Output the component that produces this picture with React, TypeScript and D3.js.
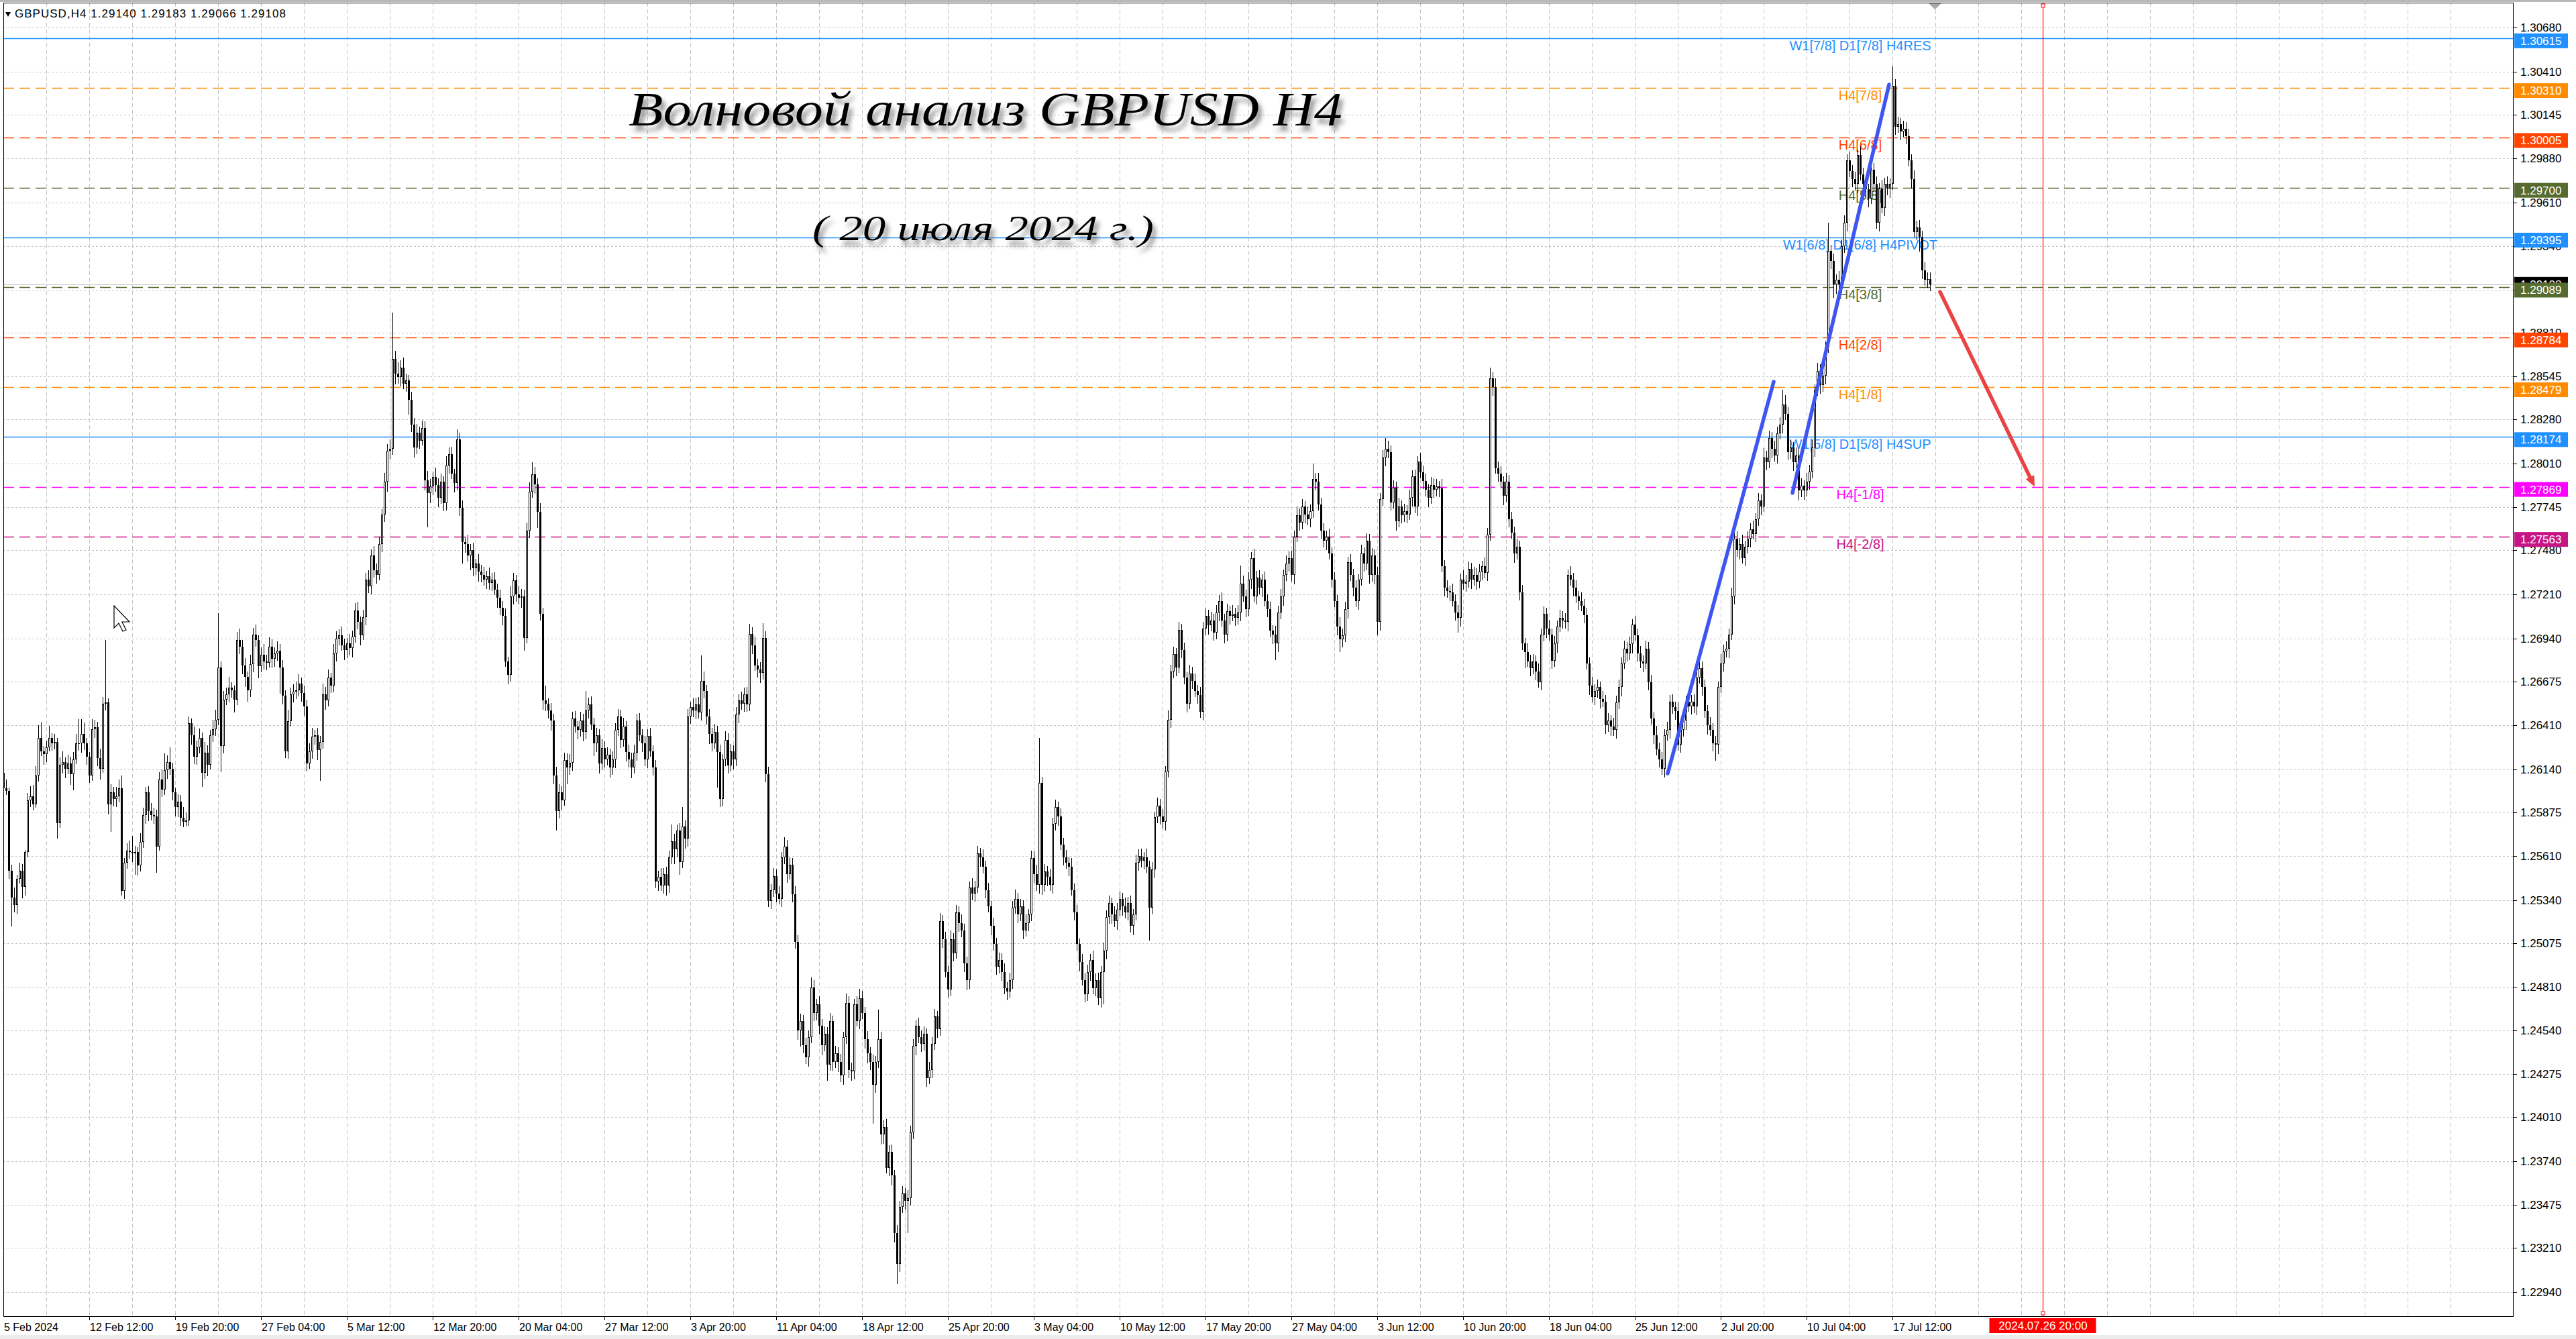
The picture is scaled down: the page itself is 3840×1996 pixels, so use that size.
import React, { useRef, useEffect } from 'react';
import * as d3 from 'd3';

// each bar: [close, upper wick, lower wick] in 1e-5 above 1.2; open = previous close
type Bar = [number, number, number];

const BASE = 1.2;
const FIRST_OPEN = 6120;

const febBars: Bar[] = [
  [6022,30,40],[6006,55,25],[5519,20,50],[5356,35,178],[5308,60,45],[5470,25,55],[5519,50,30],[5421,40,70],[5632,15,55],[5949,45,30],
  [5973,65,40],[5925,70,35],[6103,55,20],[6330,80,40],[6249,95,30],[6233,35,65],[6274,40,50],[6330,75,25],[6298,30,45],[6306,50,35],
  [5811,25,97],[6168,45,30],[6184,65,55],[6144,30,60],[6176,55,35],[6111,40,65],[6201,45,100],[6298,60,30],[6298,150,45],[6355,90,55],
  [6298,70,40],[6217,35,50],[6103,30,45],[6387,60,35],[6396,45,55],[6209,35,50],[6144,55,65],[6542,40,25],[6550,381,40],[5925,25,60],
  [5998,50,170],[5957,35,45],[5973,60,50],[6022,55,35],[5397,80,30],[5567,30,50],[5640,45,35],[5632,65,40],[5624,100,50],[5632,40,130],
  [5551,30,60],[5697,50,35],[5860,45,40],[5998,35,55],[5884,40,60],[5860,50,35],[5852,45,45],[5665,40,160],[6079,45,25],[6014,60,45],
  [6136,100,30],[6184,40,55],[6144,90,40],[5998,35,50],[5908,30,55],[5941,45,60],[5843,40,50],[5819,65,35],[5827,50,30],[6420,45,35],
  [6347,30,55],[6217,55,45],[6274,40,50],[6330,60,35],[6120,35,90],[6241,65,40],[6168,45,70],[6347,35,30],[6387,55,40],[6444,60,45],
  [6761,333,35],[6282,40,160],[6566,55,45],[6599,40,35],[6639,65,50],[6623,35,45],[6566,30,80],[6931,50,35],[6890,70,45],[6777,40,55],
  [6704,45,60],[6623,35,70],[6785,55,40],[6964,40,50],[6930,60,40],[6769,30,70],[6842,45,35],[6801,65,50],[6793,40,45],[6891,55,30],
  [6818,45,60],[6850,35,50],[6866,55,45],[6761,40,160],[6590,45,55],[6249,35,40],[6436,70,45],[6599,40,35],[6615,45,50],[6623,55,45],
  [6663,60,35],[6607,40,55],[6526,45,60],
];

const marBars: Bar[] = [
  [6176,40,50],[6249,50,35],[6339,55,45],[6347,35,50],[6258,45,60],[6306,40,190],[6600,65,40],[6560,45,55],[6700,50,35],[6650,30,45],
  [6850,55,40],[6940,45,50],[6960,35,40],[6900,55,35],[6870,40,60],[6910,35,50],[6880,60,45],[6950,40,55],[7110,45,35],[7040,55,45],
  [6960,35,60],[7070,45,30],[7300,40,50],[7260,60,40],[7450,35,50],[7360,55,45],[7330,40,55],[7520,45,35],[7700,30,50],[7900,55,45],
  [8090,40,60],[8100,60,50],[8650,284,35],[8560,50,65],[8540,70,40],[8600,45,55],[8500,60,35],[8520,40,50],[8400,35,90],[8250,50,45],
  [8110,40,60],[8200,55,40],[8150,35,50],[8230,45,30],[7910,40,65],[7830,55,210],[7870,45,60],[7930,30,50],[7880,55,40],[7800,40,55],
  [7900,50,35],[7770,35,50],[8000,55,45],[8070,40,50],[7950,45,35],[7890,30,55],[8160,60,45],[7740,40,50],[7530,45,130],[7520,35,55],
  [7450,55,40],[7480,40,90],[7370,45,50],[7400,30,40],[7350,55,60],[7330,40,45],[7300,50,35],[7320,35,55],[7280,55,40],[7300,40,50],
  [7240,45,35],[7190,35,60],[7130,50,45],[7080,40,60],[6800,45,35],[6716,30,55],[7200,60,40],[7295,45,50],[7210,35,45],[7190,55,40],
  [7200,45,60],[6945,40,80],[7600,50,35],[7840,55,45],[7945,73,40],[7885,45,60],[7717,35,100],[7090,50,40],[6560,40,55],[6540,90,45],
  [6500,35,50],[6440,45,65],[6100,40,50],[5885,55,121],[6000,50,45],[5950,35,60],[6198,45,35],[6150,40,100],[6180,55,45],[6451,40,50],
  [6400,45,35],[6380,35,55],[6440,50,40],[6367,40,55],[6500,120,45],[6536,40,50],[6415,50,35],[6300,40,80],[6350,45,55],[6174,35,60],
  [6270,55,40],[6200,40,50],[6230,45,35],[6150,35,60],[6200,50,45],[6380,40,55],[6463,45,35],[6319,40,50],[6400,55,40],[6246,35,60],
  [6200,45,50],[6150,40,65],[6240,50,35],[6439,40,50],[6350,45,40],[6300,35,55],
];

const aprBars: Bar[] = [
  [6200,45,40],[6343,40,55],[6250,50,35],[6150,35,50],[5451,45,40],[5480,40,55],[5430,55,35],[5499,35,50],[5427,45,60],[5600,40,45],
  [5700,100,40],[5650,45,90],[5764,40,50],[5572,45,80],[5788,120,35],[5716,40,60],[6463,45,50],[6520,35,45],[6500,55,40],[6536,40,55],
  [6487,45,35],[6680,157,50],[6620,60,45],[6463,35,50],[6355,45,60],[6300,40,50],[6367,50,35],[6246,40,220],[5957,45,50],[6200,35,45],
  [6319,55,40],[6162,40,50],[6250,45,35],[6200,35,60],[6475,45,40],[6560,40,55],[6540,55,35],[6600,40,50],[6536,45,45],[6969,60,40],
  [6900,40,55],[6777,50,35],[6750,40,50],[6728,45,60],[6945,90,40],[6111,40,50],[5333,45,35],[5400,35,50],[5486,50,40],[5380,40,55],
  [5347,45,35],[5600,35,50],[5667,55,40],[5500,40,55],[5556,45,35],[5375,40,50],[5084,50,40],[4542,40,60],[4600,45,100],[4450,35,50],
  [4376,45,40],[4500,40,55],[4806,60,35],[4650,45,50],[4700,35,45],[4570,50,55],[4450,40,60],[4520,45,35],[4334,40,100],[4598,50,40],
  [4348,35,55],[4400,45,35],[4348,40,60],[4265,50,40],[4500,35,55],[4709,60,40],[4300,40,50],[4292,45,60],[4700,35,50],[4600,50,35],
  [4737,60,50],[4650,45,40],[4487,35,55],[4400,50,60],[4348,40,50],[4209,45,240],[4350,35,50],[4487,180,40],[3904,45,60],[3950,40,55],
  [3700,50,35],[3800,40,50],[3654,45,60],[3300,35,55],[3112,50,124],[3460,40,50],[3543,45,35],[3500,35,55],[3515,50,200],[3918,40,45],
  [4445,45,40],[4570,35,55],[4500,50,35],[4459,40,50],[4520,45,40],[4251,35,55],[4300,50,40],[4459,40,50],[4626,45,35],[4550,35,55],
  [5209,50,40],[5100,40,55],[4900,45,35],[4792,35,50],[5098,55,40],[5014,40,50],[5264,45,35],[5200,35,55],[5153,50,40],[4950,40,50],
  [4848,45,60],[5417,35,50],[5380,55,40],[5417,40,50],[5625,45,35],[5600,35,55],[5542,50,40],[5400,40,50],[5300,45,35],[5181,35,55],
  [5070,50,40],[4931,40,50],
];

const mayBars: Bar[] = [
  [4973,45,40],[4900,40,55],[4800,50,35],[4778,35,50],[4850,45,40],[5292,40,55],[5347,55,35],[5250,35,50],[5300,45,40],[5153,40,55],
  [5200,50,35],[5250,35,50],[5597,45,40],[5500,40,55],[5431,55,35],[6055,278,50],[5431,40,60],[5514,45,40],[5480,35,55],[5431,50,35],
  [5805,40,50],[5908,45,40],[5850,35,55],[5680,50,35],[5600,40,50],[5569,45,40],[5542,35,55],[5400,55,35],[5264,40,50],[5070,45,40],
  [4959,35,55],[4850,50,35],[4764,40,50],[4900,45,40],[4973,35,55],[4800,55,35],[4850,40,50],[4737,45,40],[4900,35,55],[5028,50,200],
  [5236,40,50],[5320,45,40],[5250,35,55],[5209,50,35],[5280,40,50],[5347,45,40],[5300,35,55],[5264,55,35],[5320,40,50],[5181,45,40],
  [5250,35,55],[5569,50,35],[5611,40,50],[5580,45,40],[5600,35,55],[5542,55,35],[5292,40,200],[5528,45,40],[5847,35,55],[5916,50,35],
  [5850,40,50],[5819,45,40],[6125,35,55],[6444,55,35],[6739,40,50],[6846,45,40],[6763,35,55],[6991,50,35],[6870,40,50],[6700,45,40],
  [6543,35,55],[6726,55,35],[6680,40,50],[6621,45,40],[6595,35,55],[6490,50,35],[7001,40,50],[7080,45,40],[7020,35,55],[7050,55,35],
  [6975,40,50],[7100,45,40],[7171,35,55],[7050,50,35],[6962,40,50],[7106,45,40],[7080,35,55],[7090,55,35],[7066,40,50],[7100,45,40],
  [7276,110,55],[7200,50,35],[7119,40,50],[7300,45,40],[7433,35,55],[7197,55,35],[7315,40,50],[7250,45,40],[7300,35,55],[7171,50,35],
  [7119,40,50],[6988,45,40],[6962,35,55],[6909,55,100],[7100,40,50],[7197,45,40],[7328,35,55],[7400,50,35],[7433,40,50],[7328,45,40],
  [7564,35,55],[7695,55,35],[7650,40,50],[7747,45,40],[7700,35,55],[7669,50,35],[7720,40,50],[7918,91,40],[7900,35,55],[7760,55,35],
  [7600,40,50],[7538,45,40],[7564,35,55],[7459,50,35],[7300,40,50],[7171,45,40],[7014,35,55],[6936,55,80],[6960,40,50],[7119,45,40],
  [7407,35,55],[7328,50,35],[7250,40,50],[7171,45,40],[7300,35,55],[7459,55,35],[7400,40,50],[7538,45,40],
];

const junBars: Bar[] = [
  [7328,40,50],[7450,45,40],[7328,35,55],[7040,50,80],[7792,40,50],[8049,45,40],[8101,65,55],[8080,50,35],[7774,40,50],[7865,45,40],
  [7656,35,55],[7747,55,35],[7695,40,50],[7720,45,40],[7700,35,55],[7800,50,35],[7931,40,50],[7747,45,40],[8022,35,55],[7957,55,35],
  [7905,40,50],[7850,45,40],[7800,35,55],[7880,50,35],[7850,40,50],[7870,45,40],[7860,35,55],[7381,55,35],[7250,40,50],[7230,45,40],
  [7224,35,55],[7171,50,35],[7100,40,50],[7067,45,90],[7302,35,55],[7276,55,35],[7290,40,50],[7368,45,40],[7300,35,55],[7330,50,35],
  [7289,40,50],[7350,45,40],[7381,35,55],[7342,55,35],[7577,40,50],[8533,66,40],[8481,35,55],[7983,50,35],[7950,40,50],[7900,45,40],
  [7813,35,55],[7900,55,35],[7669,40,50],[7590,45,40],[7459,35,55],[7500,50,35],[7224,40,50],[6909,45,40],[6857,35,100],[6800,55,35],
  [6760,40,50],[6800,45,40],[6739,35,55],[6674,50,35],[6962,40,50],[7093,45,40],[7000,35,55],[6962,55,35],[6805,40,50],[6909,45,40],
  [7014,35,55],[7067,50,35],[7050,40,50],[7040,45,40],[7328,35,55],[7300,55,35],[7250,40,50],[7197,45,40],[7171,35,55],[7141,50,35],
  [7082,40,50],[6789,45,40],[6650,35,55],[6584,55,35],[6620,40,50],[6642,45,40],[6569,35,55],[6554,50,35],[6408,40,50],[6437,45,40],
  [6400,35,55],[6379,55,35],[6550,40,50],[6642,45,40],[6789,35,55],[6877,50,35],[6850,40,50],[6906,45,40],[7024,35,55],[6960,55,35],
  [6848,40,50],[6800,45,40],[6789,35,55],[6877,50,35],[6672,40,50],[6452,45,40],[6350,35,55],[6261,55,35],[6200,40,50],[6144,45,40],
  [6349,35,55],[6379,50,35],[6554,40,50],[6520,45,40],[6496,35,55],[6290,55,35],[6379,40,50],[6437,45,40],[6554,35,55],[6525,50,35],
];

const julBars: Bar[] = [
  [6554,40,50],[6525,45,40],[6700,35,55],[6760,55,35],[6642,40,50],[6496,45,40],[6408,35,55],[6380,50,35],[6300,40,50],[6290,45,100],
  [6642,35,55],[6789,55,35],[6863,40,50],[6877,45,40],[6965,35,55],[7200,50,35],[7552,40,50],[7480,45,40],[7520,35,55],[7434,55,35],
  [7500,40,50],[7552,45,40],[7610,35,55],[7580,50,35],[7669,40,50],[7786,45,40],[7750,35,55],[8050,55,35],[8021,40,50],[8168,45,40],
  [8100,35,55],[8060,50,35],[8197,40,50],[8250,45,40],[8373,88,55],[8314,55,35],[8080,40,50],[8109,45,40],[8021,35,55],[8060,50,35],
  [7845,40,59],[7874,45,40],[7845,35,55],[7900,55,35],[7962,40,50],[8109,45,40],[8461,35,55],[8578,50,35],[8490,40,50],[8550,45,40],
  [8725,35,55],[9311,176,35],[9250,40,50],[9106,45,80],[9135,35,55],[9106,55,35],[9341,40,50],[9487,45,40],[9869,35,55],[9800,50,35],
  [9751,40,50],[9722,45,40],[9898,35,55],[9780,55,35],[9722,40,50],[9690,45,40],[9634,35,55],[9810,50,35],[9722,40,50],[9487,45,40],
  [9693,35,55],[9576,55,35],[9722,40,50],[9693,45,40],[9722,35,55],[10323,118,35],[10074,40,50],[10089,45,40],[10045,35,55],[10060,50,35],
  [10015,40,50],[9869,45,40],[9751,35,55],[9429,55,35],[9458,40,50],[9399,45,90],[9194,35,55],[9135,50,35],[9140,40,50],[9108,43,42],
];

const priceTicks = [
  1.3068, 1.3041, 1.30145, 1.2988, 1.2961, 1.2934, 1.29075, 1.2881, 1.28545, 1.2828,
  1.2801, 1.27745, 1.2748, 1.2721, 1.2694, 1.26675, 1.2641, 1.2614, 1.25875, 1.2561,
  1.2534, 1.25075, 1.2481, 1.2454, 1.24275, 1.2401, 1.2374, 1.23475, 1.2321, 1.2294,
];

const timeLabels = [
  '5 Feb 2024', '12 Feb 12:00', '19 Feb 20:00', '27 Feb 04:00', '5 Mar 12:00', '12 Mar 20:00',
  '20 Mar 04:00', '27 Mar 12:00', '3 Apr 20:00', '11 Apr 04:00', '18 Apr 12:00', '25 Apr 20:00',
  '3 May 04:00', '10 May 12:00', '17 May 20:00', '27 May 04:00', '3 Jun 12:00', '10 Jun 20:00',
  '18 Jun 04:00', '25 Jun 12:00', '2 Jul 20:00', '10 Jul 04:00', '17 Jul 12:00',
];

const levelPrices = [1.30615, 1.3031, 1.30005, 1.297, 1.29395, 1.29089, 1.28784, 1.28479, 1.28174, 1.27869, 1.27563];
const levelTexts = [
  'W1[7/8] D1[7/8] H4RES', 'H4[7/8]', 'H4[6/8]', 'H4[5/8]', 'W1[6/8] D1[6/8] H4PIVOT',
  'H4[3/8]', 'H4[2/8]', 'H4[1/8]', 'W1[5/8] D1[5/8] H4SUP', 'H4[-1/8]', 'H4[-2/8]',
];
const levelKinds = ['major', 'l78', 'l68', 'l58', 'major', 'l58', 'l68', 'l78', 'major', 'm18', 'm28'];
const levelLabelBar = 692;

const currentPrice = 1.29108;
const headerText = 'GBPUSD,H4  1.29140 1.29183 1.29066 1.29108';
const titleText = 'Волновой анализ GBPUSD H4';
const subtitleText = '( 20 июля 2024 г.)';

// [bar, price, bar, price]
const waveLines = [
  [620.25, 1.26114, 659.75, 1.28512],
  [666.75, 1.27831, 702.75, 1.30331],
];
const forecastArrow = [721.75, 1.29062, 757, 1.27869];
const markerBar = 760;
const markerLabel = '2024.07.26 20:00';

const kindStyle: Record<string, { color: string; dash: string | null }> = {
  major: { color: '#1e90ff', dash: null },
  l78: { color: '#ff8c00', dash: '16 8' },
  l68: { color: '#ff4500', dash: '16 8' },
  l58: { color: '#556b2f', dash: '16 8' },
  m18: { color: '#ff00ff', dash: '16 8' },
  m28: { color: '#c71585', dash: '16 8' },
};

const FONT = "'Liberation Sans', Arial, sans-serif";

const App: React.FC = () => {
  const svgRef = useRef<SVGSVGElement | null>(null);

  useEffect(() => {
    if (!svgRef.current) return;
    const svg = d3.select(svgRef.current);
    svg.selectAll('*').remove();

    const W = 3840, H = 1996;
    const L = 5, R = 3746, T = 4, B = 1962;

    const bars = [...febBars, ...marBars, ...aprBars, ...mayBars, ...junBars, ...julBars];
    let prev = FIRST_OPEN;
    const candles = bars.map(([c, u, d], i) => {
      const o = prev;
      prev = c;
      return {
        i,
        o: BASE + o / 1e5,
        c: BASE + c / 1e5,
        h: BASE + (Math.max(o, c) + u) / 1e5,
        l: BASE + (Math.min(o, c) - d) / 1e5,
      };
    });

    const x = d3.scaleLinear().domain([0, candles.length - 1]).range([5, 5 + 4 * (candles.length - 1)]);
    const y = d3.scaleLinear().domain([1.2294, 1.3068]).range([1926, 41]);

    const defs = svg.append('defs');
    defs.append('clipPath').attr('id', 'plotClip')
      .append('rect').attr('x', L).attr('y', T).attr('width', R - L).attr('height', B - T);
    const sh = defs.append('filter').attr('id', 'shadow').attr('x', '-10%').attr('y', '-30%').attr('width', '130%').attr('height', '190%');
    sh.append('feDropShadow').attr('dx', 5).attr('dy', 8).attr('stdDeviation', 3.5).attr('flood-color', '#555').attr('flood-opacity', 0.65);

    svg.append('rect').attr('width', W).attr('height', H).attr('fill', '#fff');
    svg.append('rect').attr('x', 0).attr('y', 0).attr('width', W).attr('height', 3).attr('fill', '#b8b8b8');
    svg.append('rect').attr('x', 0).attr('y', 1990).attr('width', W).attr('height', 6).attr('fill', '#ececec');

    const plot = svg.append('g').attr('clip-path', 'url(#plotClip)');

    // grid
    const grid = plot.append('g').attr('shape-rendering', 'crispEdges');
    grid.selectAll('line.h').data(priceTicks).join('line')
      .attr('x1', L).attr('x2', R)
      .attr('y1', d => Math.round(y(d)) + 0.5).attr('y2', d => Math.round(y(d)) + 0.5)
      .attr('stroke', '#c4c4c4').attr('stroke-dasharray', '3 3');
    const vBars = d3.range(16, 920, 16);
    grid.selectAll('line.v').data(vBars).join('line')
      .attr('x1', d => x(d) + 0.5).attr('x2', d => x(d) + 0.5)
      .attr('y1', T).attr('y2', B)
      .attr('stroke', '#c4c4c4').attr('stroke-dasharray', '6 4');

    // level lines
    plot.append('g').selectAll('line').data(levelPrices).join('line')
      .attr('x1', L).attr('x2', R)
      .attr('y1', d => Math.round(y(d)) + 0.5).attr('y2', d => Math.round(y(d)) + 0.5)
      .attr('stroke', (d, i) => kindStyle[levelKinds[i]].color)
      .attr('stroke-width', 1.3)
      .attr('stroke-dasharray', (d, i) => kindStyle[levelKinds[i]].dash);

    // current price line
    plot.append('line')
      .attr('x1', L).attr('x2', R)
      .attr('y1', Math.round(y(currentPrice)) + 0.5).attr('y2', Math.round(y(currentPrice)) + 0.5)
      .attr('stroke', '#c0c0c0').attr('stroke-width', 1.2);

    // vertical date marker
    const mx = x(markerBar) + 0.5;
    plot.append('line').attr('x1', mx).attr('x2', mx).attr('y1', T).attr('y2', B)
      .attr('stroke', '#ff0000').attr('stroke-width', 1.2);
    [T + 2, B - 7].forEach(yy => {
      plot.append('rect').attr('x', mx - 2.5).attr('y', yy).attr('width', 5).attr('height', 5)
        .attr('fill', '#fff').attr('stroke', '#ff0000').attr('stroke-width', 1);
    });

    // level texts (under candles)
    plot.append('g').selectAll('text').data(levelPrices).join('text')
      .attr('x', x(levelLabelBar)).attr('y', d => y(d) + 18)
      .attr('text-anchor', 'middle')
      .attr('font-family', FONT).attr('font-size', 20)
      .attr('fill', (d, i) => kindStyle[levelKinds[i]].color)
      .text((d, i) => levelTexts[i]);

    // candles
    const cg = plot.append('g').attr('shape-rendering', 'crispEdges');
    cg.selectAll('line').data(candles).join('line')
      .attr('x1', d => x(d.i) + 0.5).attr('x2', d => x(d.i) + 0.5)
      .attr('y1', d => y(d.h)).attr('y2', d => y(d.l))
      .attr('stroke', '#000').attr('stroke-width', 1);
    cg.selectAll('rect').data(candles).join('rect')
      .each(function (d) {
        const top = y(Math.max(d.o, d.c));
        const bot = y(Math.min(d.o, d.c));
        const r = d3.select(this);
        const cx = x(d.i);
        if (bot - top < 2) {
          r.attr('x', cx - 1).attr('y', top).attr('width', 3).attr('height', Math.max(1.2, bot - top)).attr('fill', '#000');
        } else if (d.c >= d.o) {
          r.attr('x', cx - 0.5).attr('y', top + 0.5).attr('width', 2).attr('height', bot - top - 1)
            .attr('fill', '#fff').attr('stroke', '#000').attr('stroke-width', 1);
        } else {
          r.attr('x', cx - 1).attr('y', top).attr('width', 3).attr('height', bot - top).attr('fill', '#000');
        }
      });

    // wave lines
    plot.append('g').selectAll('line').data(waveLines).join('line')
      .attr('x1', d => x(d[0])).attr('y1', d => y(d[1]))
      .attr('x2', d => x(d[2])).attr('y2', d => y(d[3]))
      .attr('stroke', '#3f55f2').attr('stroke-width', 5.5).attr('stroke-linecap', 'round');

    // forecast arrow
    const ax1 = x(forecastArrow[0]), ay1 = y(forecastArrow[1]);
    const ax2 = x(forecastArrow[2]), ay2 = y(forecastArrow[3]);
    const ang = Math.atan2(ay2 - ay1, ax2 - ax1);
    const hl = 16, hw = 7;
    const bx = ax2 - hl * Math.cos(ang), by = ay2 - hl * Math.sin(ang);
    plot.append('line').attr('x1', ax1).attr('y1', ay1).attr('x2', bx).attr('y2', by)
      .attr('stroke', '#ea4343').attr('stroke-width', 5.5).attr('stroke-linecap', 'round');
    plot.append('path')
      .attr('d', `M${ax2},${ay2} L${bx - hw * Math.sin(ang)},${by + hw * Math.cos(ang)} L${bx + hw * Math.sin(ang)},${by - hw * Math.cos(ang)} Z`)
      .attr('fill', '#ea4343');

    // title
    plot.append('text').attr('x', 937).attr('y', 187)
      .attr('font-family', "'Liberation Serif', 'DejaVu Serif', serif").attr('font-style', 'italic')
      .attr('font-size', 72).attr('fill', '#000')
      .attr('textLength', 1064).attr('lengthAdjust', 'spacingAndGlyphs')
      .attr('filter', 'url(#shadow)').text(titleText);
    plot.append('text').attr('x', 1211).attr('y', 358)
      .attr('font-family', "'Liberation Serif', 'DejaVu Serif', serif").attr('font-style', 'italic')
      .attr('font-size', 52).attr('fill', '#000')
      .attr('textLength', 509).attr('lengthAdjust', 'spacingAndGlyphs')
      .attr('filter', 'url(#shadow)').text(subtitleText);

    // header
    svg.append('path').attr('d', 'M8,18 L16,18 L12,25 Z').attr('fill', '#000');
    svg.append('text').attr('x', 22).attr('y', 26)
      .attr('font-family', FONT).attr('font-size', 17).attr('fill', '#000')
      .attr('textLength', 404).attr('lengthAdjust', 'spacing')
      .text(headerText);

    // mouse cursor
    svg.append('path')
      .attr('d', 'M170,903 L170,936 L177,929 L183,941 L188,939 L182,927 L193,927 Z')
      .attr('fill', '#fff').attr('stroke', '#000').attr('stroke-width', 1.2);

    // chart shift marker
    svg.append('path').attr('d', 'M2875,5 L2894,5 L2884.5,14 Z').attr('fill', '#a8a8a8');

    // frame
    svg.append('rect').attr('x', L + 0.5).attr('y', T + 0.5).attr('width', R - L).attr('height', B - T)
      .attr('fill', 'none').attr('stroke', '#000').attr('stroke-width', 1.5).attr('shape-rendering', 'crispEdges');

    // price axis
    const pa = svg.append('g');
    pa.selectAll('line').data(priceTicks).join('line')
      .attr('x1', R).attr('x2', R + 6)
      .attr('y1', d => Math.round(y(d)) + 0.5).attr('y2', d => Math.round(y(d)) + 0.5)
      .attr('stroke', '#000');
    pa.selectAll('text').data(priceTicks).join('text')
      .attr('x', 3757).attr('y', d => y(d) + 6)
      .attr('font-family', FONT).attr('font-size', 17).attr('fill', '#000')
      .text(d => d3.format('.5f')(d));

    // current price box sits a little higher so it peeks out above the H4[3/8] box
    const boxes = [
      { p: currentPrice, color: '#000', dy: -11 },
      ...levelPrices.map((p, i) => ({ p, color: kindStyle[levelKinds[i]].color, dy: -7 })),
    ];
    const bg = svg.append('g').selectAll('g').data(boxes).join('g');
    bg.append('rect').attr('x', 3748).attr('y', d => y(d.p) + d.dy).attr('width', 80).attr('height', 22)
      .attr('fill', d => d.color);
    bg.append('text').attr('x', 3757).attr('y', d => y(d.p) + d.dy + 17)
      .attr('font-family', FONT).attr('font-size', 17).attr('fill', '#fff')
      .text(d => d3.format('.5f')(d.p));

    // time axis
    const ta = svg.append('g');
    const tBars = timeLabels.map((t, k) => k * 32);
    ta.selectAll('line').data(tBars.slice(1)).join('line')
      .attr('x1', d => x(d) + 0.5).attr('x2', d => x(d) + 0.5)
      .attr('y1', B).attr('y2', B + 6).attr('stroke', '#000');
    ta.selectAll('text').data(timeLabels).join('text')
      .attr('x', (d, k) => x(tBars[k]) + 1).attr('y', 1984)
      .attr('font-family', FONT).attr('font-size', 16).attr('fill', '#000')
      .text(d => d);

    svg.append('rect').attr('x', mx - 80).attr('y', 1965).attr('width', 159).attr('height', 22).attr('fill', '#ff0000');
    svg.append('text').attr('x', mx).attr('y', 1982).attr('text-anchor', 'middle')
      .attr('font-family', FONT).attr('font-size', 17).attr('fill', '#fff')
      .text(markerLabel);
  }, []);

  return (
    <svg
      ref={svgRef}
      width={3840}
      height={1996}
      style={{ position: 'absolute', left: 0, top: 0, display: 'block' }}
    />
  );
};

export default App;
